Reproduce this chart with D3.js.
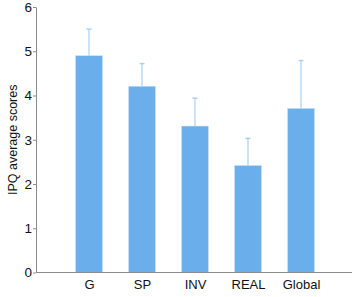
<!DOCTYPE html>
<html>
<head>
<meta charset="utf-8">
<script src="https://cdn.jsdelivr.net/npm/d3@7"></script>
<style>
  html, body { margin: 0; padding: 0; background: #fff; }
  #chart { width: 352px; height: 297px; }
  text { font-family: "Liberation Sans", Arial, sans-serif; }
</style>
</head>
<body>
<div id="chart"></div>
<script>
const categories = ['G', 'SP', 'INV', 'REAL', 'Global'];
const means = [4.9, 4.21, 3.31, 2.42, 3.71];
const errors = [0.6, 0.51, 0.63, 0.61, 1.08];
const yTicks = [0, 1, 2, 3, 4, 5, 6];

const width = 352, height = 297;
const margin = { top: 7, right: 0, bottom: 24, left: 36 };

const svg = d3.select('#chart')
  .append('svg')
  .attr('width', width)
  .attr('height', height);

const x = d3.scalePoint()
  .domain(categories)
  .range([margin.left, 354])
  .padding(1);

const y = d3.scaleLinear()
  .domain([0, 6])
  .range([height - margin.bottom - 0.5, margin.top]);

const barWidth = 27;

// bars
svg.append('g')
  .selectAll('rect')
  .data(categories)
  .enter()
  .append('rect')
  .attr('x', (d) => x(d) - barWidth / 2)
  .attr('y', (d, i) => y(means[i]))
  .attr('width', barWidth)
  .attr('height', (d, i) => y(0) - y(means[i]))
  .attr('fill', '#6aafeb')
  .attr('stroke', '#cfe5f8')
  .attr('stroke-width', 0.6);

// error bars (upper only)
const err = svg.append('g')
  .attr('stroke', '#a9d0f3')
  .attr('fill', 'none');

err.selectAll('line.stem')
  .data(categories)
  .enter()
  .append('line')
  .attr('class', 'stem')
  .attr('x1', (d) => x(d))
  .attr('x2', (d) => x(d))
  .attr('y1', (d, i) => y(means[i]))
  .attr('y2', (d, i) => y(means[i] + errors[i]))
  .attr('stroke-width', 1.2);

err.selectAll('line.cap')
  .data(categories)
  .enter()
  .append('line')
  .attr('class', 'cap')
  .attr('x1', (d) => x(d) - 2.5)
  .attr('x2', (d) => x(d) + 2.5)
  .attr('y1', (d, i) => y(means[i] + errors[i]))
  .attr('y2', (d, i) => y(means[i] + errors[i]))
  .attr('stroke-width', 1.5);

// y axis
const yAxis = svg.append('g')
  .attr('transform', `translate(${margin.left},0)`)
  .call(d3.axisLeft(y).tickValues(yTicks).tickFormat(d3.format('d')).tickSize(3).tickSizeOuter(0));
yAxis.select('.domain').attr('stroke', '#8c8c8c');
yAxis.selectAll('.tick line').attr('stroke', '#8c8c8c');
yAxis.selectAll('.tick text')
  .attr('font-size', '13.5px')
  .attr('fill', '#111')
  .attr('x', -4)
  .attr('font-family', '"Liberation Sans", Arial, sans-serif');

// x axis
const xAxis = svg.append('g')
  .attr('transform', `translate(0,${y(0)})`)
  .call(d3.axisBottom(x).tickSize(0).tickSizeOuter(0));
xAxis.select('.domain')
  .attr('stroke', '#8c8c8c')
  .attr('d', `M${margin.left},0H${width}`);
xAxis.selectAll('.tick text')
  .attr('font-size', '13px')
  .attr('fill', '#111')
  .attr('dy', '1.05em')
  .attr('font-family', '"Liberation Sans", Arial, sans-serif');

// y label
svg.append('text')
  .attr('transform', `translate(17,${(y(0) + y(6)) / 2}) rotate(-90)`)
  .attr('text-anchor', 'middle')
  .attr('font-size', '12.5px')
  .attr('fill', '#111')
  .text('IPQ average scores');
</script>
</body>
</html>
